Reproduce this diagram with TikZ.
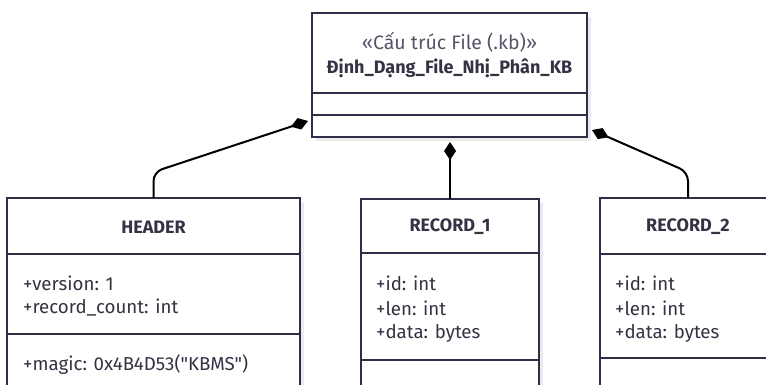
\documentclass[tikz,border=0pt]{standalone}
\usepackage{fontspec}
\setmainfont{Fira Sans}[Ligatures=TeXOff]
\usetikzlibrary{arrows.meta,calc}
\definecolor{edge}{HTML}{2E2E48}
\definecolor{shade}{HTML}{EBEBEB}
\definecolor{ink}{HTML}{333344}
\definecolor{stereo}{HTML}{55556A}
\tikzset{
  classbox/.style={draw=edge, line width=1.6pt, fill=white, inner sep=0pt, outer sep=0pt},
  shadowbox/.style={fill=shade, draw=none},
  sepline/.style={draw=edge, line width=1.6pt},
  ctitle/.style={font=\fontsize{18}{20}\selectfont\bfseries, text=ink, anchor=center, inner sep=0pt},
  cstereo/.style={font=\fontsize{19.5}{20}\selectfont, text=stereo, anchor=center, inner sep=0pt},
  member/.style={font=\fontsize{18.7}{20}\selectfont, text=ink, anchor=west, inner sep=0pt},
  conn/.style={draw=black, line width=2pt, rounded corners=9pt,
    {Diamond[length=18pt,width=12pt,fill=black]}-},
}
\begin{document}
\begin{tikzpicture}[x=1pt,y=-1pt]
\useasboundingbox (0,0) rectangle (766,385);
\clip (0,0) rectangle (766,385);
\fill[white] (0,0) rectangle (766,385);

% shadows
\fill[shadowbox] (316,17) rectangle (591,141);
\fill[shadowbox] (11,202) rectangle (304,420);
\fill[shadowbox] (365,203) rectangle (543,420);
\fill[shadowbox] (604,202) rectangle (780,420);

% file format class
\node[classbox, minimum width=275pt, minimum height=124pt] (kb) at (449.5,75) {};
\draw[sepline] (312,93) -- (587,93);
\draw[sepline] (312,115) -- (587,115);
\node[cstereo] (kbst) at (449.5,42) {«Cấu trúc File (.kb)»};
\node[ctitle] (kbti) at (449.5,68) {Định\_Dạng\_File\_Nhị\_Phân\_KB};

% HEADER
\node[classbox, minimum width=293pt, minimum height=222pt] (hd) at (153.5,309) {};
\draw[sepline] (7,254) -- (300,254);
\draw[sepline] (7,334) -- (300,334);
\node[ctitle] (hdti) at (153.5,227) {HEADER};
\node[member] (hda) at (23,283) {+version: 1};
\node[member] (hdb) at (23,308) {+record\_count: int};
\node[member] (hdc) at (23,365) {+magic: 0x4B4D53("KBMS")};

% RECORD_1
\node[classbox, minimum width=178pt, minimum height=222pt] (r1) at (450,310) {};
\draw[sepline] (361,253) -- (539,253);
\draw[sepline] (361,360) -- (539,360);
\node[ctitle] (r1ti) at (450,227) {RECORD\_1};
\node[member] (r1a) at (376,283) {+id: int};
\node[member] (r1b) at (376,308) {+len: int};
\node[member] (r1c) at (376,333) {+data: bytes};

% RECORD_2
\node[classbox, minimum width=176pt, minimum height=222pt] (r2) at (688,309) {};
\draw[sepline] (600,254) -- (776,254);
\draw[sepline] (600,358) -- (776,358);
\node[ctitle] (r2ti) at (688,227) {RECORD\_2};
\node[member] (r2a) at (615,283) {+id: int};
\node[member] (r2b) at (615,308) {+len: int};
\node[member] (r2c) at (615,333) {+data: bytes};

% composition ends near the container
\coordinate (dl) at ($(kb.south west)+(-4,-16)$);
\coordinate (dm) at ($(kb.south)+(0.5,5)$);
\coordinate (dr) at ($(kb.south east)+(5,-7)$);

\draw[conn] (dl) -- ($(hd.north)+(0,-26)$) -- (hd.north);
\draw[conn] (dm) -- (dm |- r1.north);
\draw[conn] (dr) -- ($(r2.north)+(0,-26)$) -- (r2.north);
\end{tikzpicture}
\end{document}
